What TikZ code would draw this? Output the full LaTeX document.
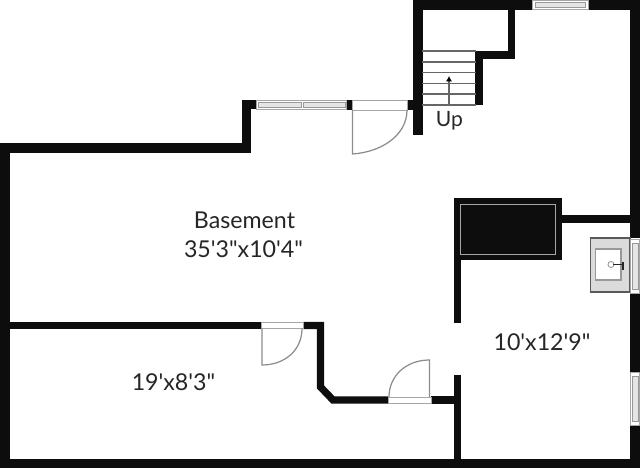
\documentclass[tikz,border=0pt]{standalone}
\usepackage{fontspec}
\newfontfamily\planfont{Lato}
\usetikzlibrary{arrows.meta}

\tikzset{
wall/.style={line width=5.2pt,black!95,line join=miter,line cap=butt},
thinwall/.style={line width=4.1pt,black!95,line join=miter,line cap=butt},
frame/.style={draw=black!35,line width=0.45pt,fill=white},
pane/.style={draw=black!40,line width=0.45pt,fill=black!10},
leaf/.style={draw=black!45,line width=0.7pt},
tread/.style={draw=black!60,line width=0.6pt},
roomlabel/.style={font=\planfont\fontsize{13.2}{15}\selectfont,text=black!85,inner sep=0pt}
}

\begin{document}
\begin{tikzpicture}[x=0.02cm,y=-0.02cm]

\useasboundingbox (0,0) rectangle (640,469);

\draw[wall] (5,463.5) -- (5,148) -- (246.5,148) -- (246.5,104.5) -- (256,104.5);
\draw[wall] (346,105) -- (352,105);
\draw[wall] (407,105) -- (418,105);
\draw[wall] (418,135) -- (418,5) -- (532,5);
\draw[wall] (588,5) -- (635,5) -- (635,238);
\draw[wall] (635,293) -- (635,372);
\draw[wall] (635,425) -- (635,463.5) -- (0,463.5);

\draw[thinwall] (511.5,10) -- (511.5,55) -- (479,55) -- (479,105);
\draw[thinwall] (9,325.5) -- (261,325.5);
\draw[thinwall] (303,325.5) -- (320.5,325.5) -- (320.5,387) -- (333,400) -- (388,400);
\draw[thinwall] (431,400) -- (457.5,400);
\draw[thinwall] (457.5,375) -- (457.5,460);
\draw[thinwall] (457.5,258) -- (457.5,323);
\draw[thinwall] (561,219) -- (630,219);

\node[draw=black!95,fill=black!95,minimum width=2.14cm,minimum height=1.22cm,inner sep=0pt] (chimney) at (507.5,228.5) {};
\draw[black!35,line width=0.3pt] (460,204) rectangle (555,254);

\draw[frame] (256,100) rectangle (346,109);
\draw[pane] (258,102) rectangle (301,107);
\draw[pane] (303,102) rectangle (345,107);
\draw[frame] (532,0.5) rectangle (588,9);
\draw[pane] (535,2.5) rectangle (585,7);
\draw[frame] (630,372) rectangle (639.5,425);
\draw[pane] (632,376) rectangle (638,421);

\draw[frame] (352,100) rectangle (407,110);
\draw[leaf] (352.5,110) -- (352.5,154) .. controls (382,152) and (407,135) .. (407,110);

\draw[frame] (261,322) rectangle (303,328.5);
\draw[leaf] (262,328.5) -- (262,365) .. controls (285,365) and (302,350) .. (302,328.5);

\draw[frame] (388,397) rectangle (431,403);
\draw[leaf] (429.5,397) -- (429.5,360) .. controls (406,360) and (389,376) .. (389,397);

\draw[tread] (422,51) -- (476,51);
\draw[tread] (422,62) -- (476,62);
\draw[tread] (422,72.5) -- (476,72.5);
\draw[tread] (422,83.5) -- (476,83.5);
\draw[tread] (422,94) -- (476,94);
\draw[tread] (422,105) -- (476,105);
\draw[tread,-{Latex[length=3pt,width=3.5pt,black]}] (449,105) -- (449,76);

\draw[draw=black!65,fill=black!14,line width=0.6pt] (590.5,238) rectangle (630,292);
\draw[draw=black!40,fill=white,line width=0.8pt] (595.5,249) rectangle (621,280);
\draw[frame] (630,239) rectangle (639.5,293);
\draw[pane] (632,243) rectangle (638,289);
\draw[draw=black!40,fill=white,line width=0.5pt] (611,264.5) circle (3);
\draw[black!85,line width=0.6pt] (613,264.5) -- (623,264.5);
\draw[black!85,line width=0.6pt] (623,262) -- (623,270);

\node[roomlabel] (basement) at (244.5,220) {Basement};
\node[roomlabel] (basementsize) at (243.5,249) {35'3"x10'4"};
\node[roomlabel,font=\planfont\fontsize{12}{14}\selectfont] (up) at (449.5,121) {Up};
\node[roomlabel] (utilitysize) at (542,342) {10'x12'9"};
\node[roomlabel] (storagesize) at (173.5,382.5) {19'x8'3"};

\end{tikzpicture}
\end{document}
